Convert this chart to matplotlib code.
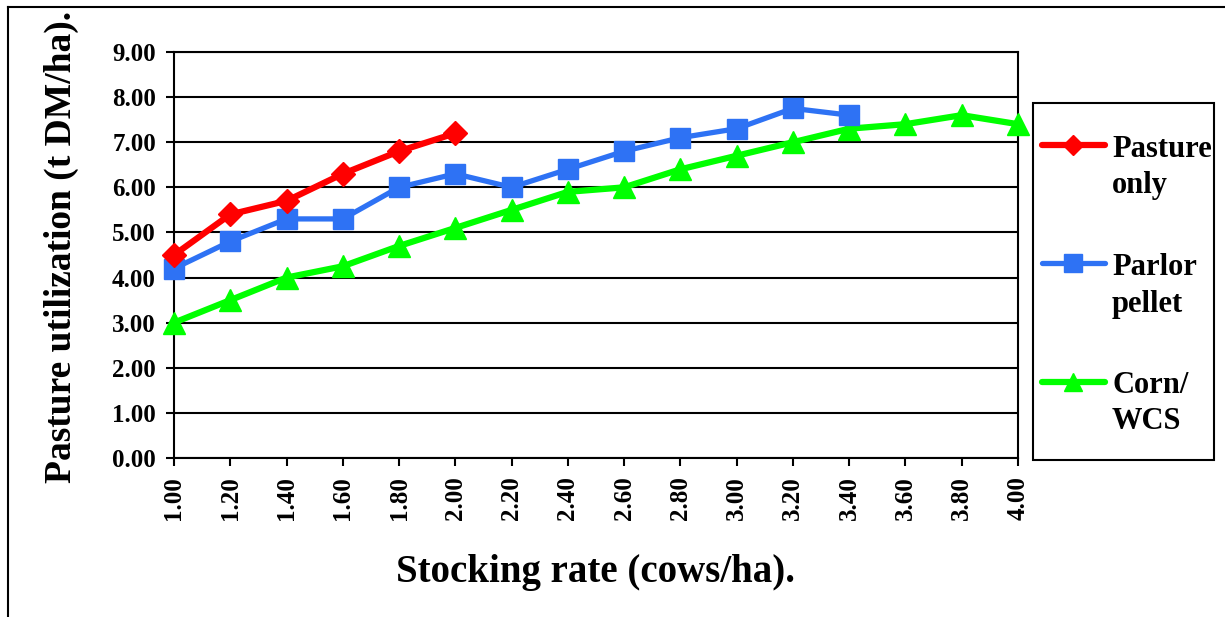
import matplotlib
matplotlib.use("Agg")
import matplotlib.pyplot as plt
from matplotlib.lines import Line2D
from matplotlib.patches import Rectangle

plt.rcParams['font.family'] = ['Liberation Serif', 'DejaVu Serif']
plt.rcParams['font.weight'] = 'bold'

x_pasture = [1.0, 1.2, 1.4, 1.6, 1.8, 2.0]
y_pasture = [4.5, 5.4, 5.7, 6.3, 6.8, 7.2]

x_parlor = [1.0, 1.2, 1.4, 1.6, 1.8, 2.0, 2.2, 2.4, 2.6, 2.8, 3.0, 3.2, 3.4]
y_parlor = [4.2, 4.8, 5.3, 5.3, 6.0, 6.3, 6.0, 6.4, 6.8, 7.1, 7.3, 7.75, 7.6]

x_corn = [1.0, 1.2, 1.4, 1.6, 1.8, 2.0, 2.2, 2.4, 2.6, 2.8, 3.0, 3.2, 3.4, 3.6, 3.8, 4.0]
y_corn = [3.0, 3.5, 4.0, 4.25, 4.7, 5.1, 5.5, 5.9, 6.0, 6.4, 6.7, 7.0, 7.3, 7.4, 7.6, 7.4]

labels = [("Pasture", "only"), ("Parlor", "pellet"), ("Corn/", "WCS")]
x_ticks = [1.0, 1.2, 1.4, 1.6, 1.8, 2.0, 2.2, 2.4, 2.6, 2.8, 3.0, 3.2, 3.4, 3.6, 3.8, 4.0]
y_ticks = [0, 1, 2, 3, 4, 5, 6, 7, 8, 9]

W, H = 1225, 617
fig = plt.figure(figsize=(W / 100, H / 100), dpi=100)
ax = fig.add_axes([174 / W, 1 - 458 / H, (1018 - 174) / W, (458 - 52) / H])

red = '#FF0000'
blue = '#2E72F4'
green = '#00FF00'

styles = [
    dict(color=red, lw=4.5, marker='D', ms=12),
    dict(color=blue, lw=3.8, marker='s', ms=15),
    dict(color=green, lw=4.5, marker='^', ms=16),
]

ax.plot(x_corn, y_corn, mec=green, mfc=green, zorder=3, clip_on=False, **styles[2])
ax.plot(x_parlor, y_parlor, mec=blue, mfc=blue, zorder=4, clip_on=False, **styles[1])
ax.plot(x_pasture, y_pasture, mec=red, mfc=red, zorder=5, clip_on=False, **styles[0])

ax.set_xlim(1.0, 4.0)
ax.set_ylim(0, 9)
ax.set_xticks(x_ticks)
ax.set_xticklabels([f"{v:.2f}" for v in x_ticks], rotation=90, fontsize=18, fontweight='bold')
ax.set_yticks(y_ticks)
ax.set_yticklabels([f"{v:.2f}" for v in y_ticks], fontsize=18, fontweight='bold')
ax.tick_params(axis='both', direction='out', length=6, width=1.5, color='black', pad=7)
ax.yaxis.grid(True, color='black', lw=1.5)
ax.set_axisbelow(True)
for s in ax.spines.values():
    s.set_color('black')
    s.set_linewidth(1.5)

fig.text(61 / W, 1 - 247 / H, "Pasture utilization (t DM/ha).", rotation=90,
         ha='center', va='center', fontsize=27, fontweight='bold')
fig.text(596 / W, 1 - 582 / H, "Stocking rate (cows/ha).", ha='center', va='baseline',
         fontsize=28, fontweight='bold')

# legend (manual, to mimic the original layout)
fig.add_artist(Rectangle((1033 / W, 1 - 460 / H), (1214 - 1033) / W, (460 - 103) / H,
                         transform=fig.transFigure, fill=True, facecolor='white',
                         edgecolor='black', lw=1.5))
handle_y = [145, 263, 382]
base1 = [157, 275, 393]
base2 = [193, 312, 429]
for st, hy, b1, b2, (l1, l2) in zip(styles, handle_y, base1, base2, labels):
    yy = 1 - hy / H
    fig.add_artist(Line2D([1042 / W, 1105 / W], [yy, yy], color=st['color'], lw=st['lw'],
                          solid_capstyle='round'))
    fig.add_artist(Line2D([1073 / W], [yy], color=st['color'], marker=st['marker'],
                          ms=st['ms'] * 0.85, mec=st['color'], mfc=st['color'], lw=0))
    fig.text(1112 / W, 1 - b1 / H, l1, ha='left', va='baseline', fontsize=22, fontweight='bold')
    fig.text(1112 / W, 1 - b2 / H, l2, ha='left', va='baseline', fontsize=22, fontweight='bold')

fig.add_artist(Line2D([8 / W, 1], [1 - 7 / H, 1 - 7 / H], color='black', lw=1.5))
fig.add_artist(Line2D([8 / W, 8 / W], [0, 1 - 7 / H], color='black', lw=1.5))

fig.savefig("out.png", dpi=100)
